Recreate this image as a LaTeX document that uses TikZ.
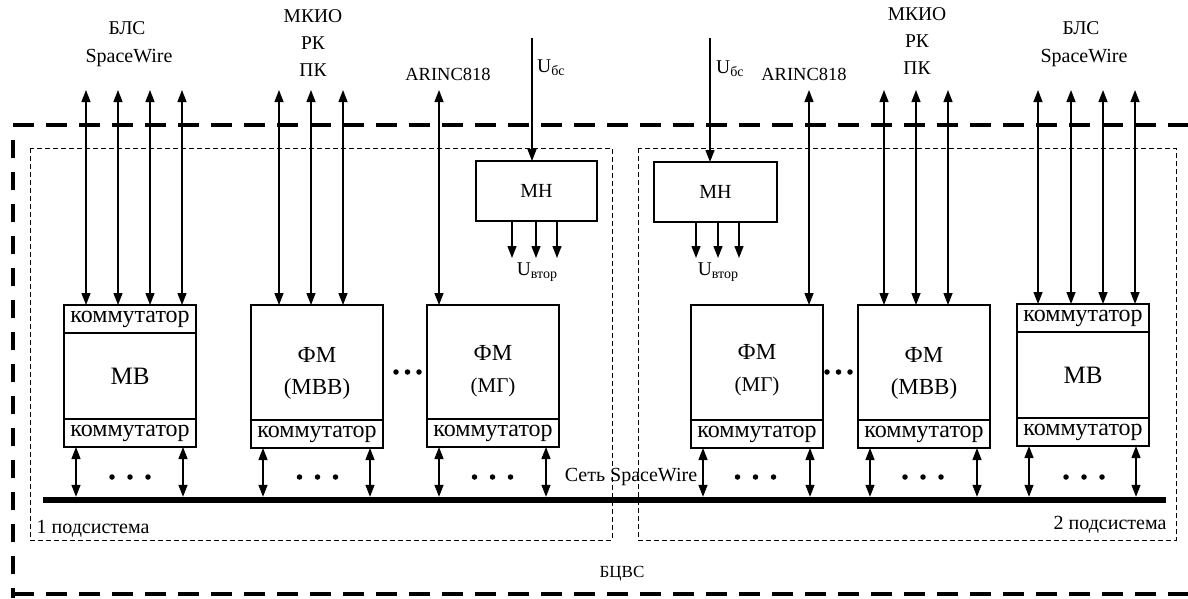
\documentclass[tikz,border=0pt]{standalone}
\usepackage{fontspec}
\setmainfont{Liberation Serif}
\usetikzlibrary{arrows.meta,calc}
\begin{document}
\begin{tikzpicture}[x=1pt,y=-1pt, >={Triangle[length=12pt,width=9pt]},
  box/.style={draw, line width=1.3pt, inner sep=0pt, outer sep=0pt, anchor=north west, minimum width=132pt},
  com/.style={box, minimum height=28pt, font=\fontsize{24}{26}\selectfont},
  intext/.style={inner sep=0pt, align=center, font=\fontsize{23}{32}\selectfont},
  link/.style={line width=1.3pt},
  dbl/.style={link,<->},
  one/.style={link,->},
  outer/.style={line width=4.5pt},
  sub/.style={line width=0.9pt, dash pattern=on 5pt off 3pt},
  lbl/.style={inner sep=0pt, font=\fontsize{19.5}{21}\selectfont},
  dotc/.style={circle, fill, inner sep=0pt, minimum size=5.5pt},
  bar/.style={fill, inner sep=0pt, minimum height=6pt},
  mh/.style={draw, line width=1.3pt, inner sep=0pt, outer sep=0pt, anchor=north west, minimum height=60pt, font=\fontsize{20}{22}\selectfont},
]
\useasboundingbox (0,0) rectangle (1188,598);

% outer frame (BCVS)
\draw[outer, dash pattern=on 21pt off 12pt] (13,125) -- (1188,125);
\draw[outer, dash pattern=on 21pt off 12pt] (13,594) -- (1188,594);
\draw[outer, dash pattern=on 18pt off 14pt] (13,140) -- (13,598);

% subsystem frames
\draw[sub] (30,148) rectangle (612,540);
\draw[sub] (638,148) rectangle (1176,540);

% bus
\node[bar, minimum width=1123pt] (bus) at (604.5,500) {};

% ---------- left subsystem modules ----------
\node[com] (mbLt) at (64,305) {коммутатор};
\node[box, minimum height=86pt, font=\fontsize{25}{27}\selectfont] (mbL) at (mbLt.south west) {МВ};
\node[com] (mbLb) at (mbL.south west) {коммутатор};

\node[box, minimum height=115pt] (fmbL) at (251,305) {};
\node[intext] (fmbLtx) at ([yshift=-11pt]fmbL.center) {ФМ\\(МВВ)};
\node[com] (fmbLb) at (fmbL.south west) {коммутатор};

\node[box, minimum height=114pt] (fmgL) at (427,305) {};
\node[intext, font=\fontsize{23}{32}\selectfont] (fmgLtx) at ([yshift=-9pt]fmgL.center) {ФМ\\{\fontsize{21}{21}\selectfont(МГ)}};
\node[com] (fmgLb) at (fmgL.south west) {коммутатор};

% ---------- right subsystem modules ----------
\node[box, minimum height=115pt] (fmgR) at (691,305) {};
\node[intext] (fmgRtx) at ([yshift=-8pt]fmgR.center) {ФМ\\{\fontsize{21}{21}\selectfont(МГ)}};
\node[com] (fmgRb) at (fmgR.south west) {коммутатор};

\node[box, minimum height=115pt] (fmbR) at (858,305) {};
\node[intext] (fmbRtx) at ([yshift=-11pt]fmbR.center) {ФМ\\(МВВ)};
\node[com] (fmbRb) at (fmbR.south west) {коммутатор};

\node[com] (mbRt) at (1017,304) {коммутатор};
\node[box, minimum height=86pt, font=\fontsize{25}{27}\selectfont] (mbR) at (mbRt.south west) {МВ};
\node[com] (mbRb) at (mbR.south west) {коммутатор};

% MH boxes
\node[mh, minimum width=121pt] (mhL) at (476,161) {МН};
\node[mh, minimum width=123pt] (mhR) at (654,162) {МН};

% ---------- top labels ----------
\node[lbl] (blsL) at (127,28) {БЛС};
\node[lbl, font=\fontsize{20}{21}\selectfont] (swL) at (129,58) {SpaceWire};
\node[lbl] (mkL) at (313,16) {МКИО};
\node[lbl] (rkL) at (313,43) {РК};
\node[lbl] (pkL) at (313,70) {ПК};
\node[lbl, font=\fontsize{18.5}{21}\selectfont] (arL) at (448,74) {ARINC818};
\node[lbl, anchor=west] (ubLt) at (537,68) {U{\fontsize{14}{14}\selectfont\raisebox{-3pt}{бс}}};

\node[lbl] (blsR) at (1081,28) {БЛС};
\node[lbl, font=\fontsize{20}{21}\selectfont] (swR) at (1084,58) {SpaceWire};
\node[lbl] (mkR) at (917,14) {МКИО};
\node[lbl] (rkR) at (917,41) {РК};
\node[lbl] (pkR) at (917,68) {ПК};
\node[lbl, font=\fontsize{18.5}{21}\selectfont] (arR) at (804,74) {ARINC818};
\node[lbl, anchor=west] (ubRt) at (716,69) {U{\fontsize{14}{14}\selectfont\raisebox{-3pt}{бс}}};

% ---------- top connectors ----------
\foreach \x [count=\i] in {86,118,150,182} {
  \coordinate (bL\i) at (\x,90);
  \draw[dbl] (bL\i) -- (bL\i |- mbLt.north);
}
\foreach \x [count=\i] in {279,311,343} {
  \coordinate (kL\i) at (\x,90);
  \draw[dbl] (kL\i) -- (kL\i |- fmbL.north);
}
\coordinate (aL) at (439,90);
\draw[dbl] (aL) -- (aL |- fmgL.north);

\foreach \x [count=\i] in {1038,1071,1103,1135} {
  \coordinate (bR\i) at (\x,90);
  \draw[dbl] (bR\i) -- (bR\i |- mbRt.north);
}
\foreach \x [count=\i] in {884,916,948} {
  \coordinate (kR\i) at (\x,90);
  \draw[dbl] (kR\i) -- (kR\i |- fmbR.north);
}
\coordinate (aR) at (809,90);
\draw[dbl] (aR) -- (aR |- fmgR.north);

% power supply
\coordinate (ubL) at (532,38);
\draw[one] (ubL) -- (ubL |- mhL.north);
\coordinate (ubR) at (710,38);
\draw[one] (ubR) -- (ubR |- mhR.north);

\foreach \x [count=\i] in {512,536,557} {
  \coordinate (oL\i) at (\x,258);
  \draw[one] (oL\i |- mhL.south) -- (oL\i);
}
\foreach \x [count=\i] in {696,718,739} {
  \coordinate (oR\i) at (\x,258);
  \draw[one] (oR\i |- mhR.south) -- (oR\i);
}
\node[lbl] (uvL) at (537,272) {U{\fontsize{14}{14}\selectfont\raisebox{-3pt}{втор}}};
\node[lbl] (uvR) at (718,272) {U{\fontsize{14}{14}\selectfont\raisebox{-3pt}{втор}}};

% ---------- bus connectors ----------
\foreach \n in {mbLb,fmbLb,fmgLb,fmgRb,fmbRb,mbRb} {
  \foreach \o in {12,119} {
    \path ($(\n.south west)+(\o,0)$) coordinate (t);
    \draw[dbl] (t) -- (t |- bus.north);
  }
}

% dots
\foreach \c in {130,317.5,492.5,755.5,923,1084} {
  \foreach \d in {-18,0,18} \node[dotc] at (\c+\d,477) {};
}
\foreach \c in {396,407.5,419,827,838.5,850} \node[dotc] at (\c,372) {};

% other labels
\node[lbl, font=\fontsize{20}{21}\selectfont] (net) at (631,477) {Сеть SpaceWire};
\node[lbl, font=\fontsize{20}{21}\selectfont] (s1) at (93,529) {1 подсистема};
\node[lbl, font=\fontsize{20}{21}\selectfont] (s2) at (1110,525) {2 подсистема};
\node[lbl, font=\fontsize{17}{21}\selectfont] (bc) at (622,574) {БЦВС};
\end{tikzpicture}
\end{document}
